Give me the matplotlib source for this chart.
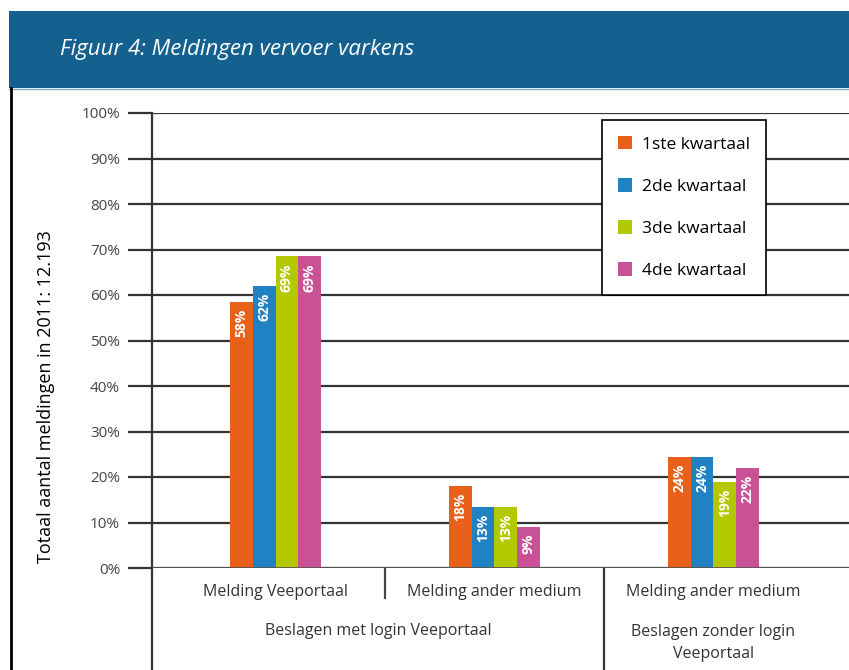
import numpy as np
import matplotlib.pyplot as plt
from matplotlib.patches import Rectangle, Patch
from matplotlib.lines import Line2D

plt.rcParams["font.family"] = ["Open Sans", "DejaVu Sans"]

# Data
categories = ["Melding Veeportaal", "Melding ander medium", "Melding ander medium"]
groups = ["Beslagen met login Veeportaal", "Beslagen zonder login\nVeeportaal"]
quarters = ["1ste kwartaal", "2de kwartaal", "3de kwartaal", "4de kwartaal"]
q1 = [58.5, 18.0, 24.4]
q2 = [62.0, 13.5, 24.4]
q3 = [68.5, 13.5, 19.0]
q4 = [68.5, 9.0, 22.0]
labels_q1 = ["58%", "18%", "24%"]
labels_q2 = ["62%", "13%", "24%"]
labels_q3 = ["69%", "13%", "19%"]
labels_q4 = ["69%", "9%", "22%"]
colors = ["#E8601A", "#2081C3", "#B4C800", "#C85295"]

W, H = 849, 670
fig = plt.figure(figsize=(W / 100, H / 100), dpi=100)

# blue header banner
fig.patches.append(Rectangle((9 / W, 1 - 88 / H), 1, 77 / H, transform=fig.transFigure,
                             facecolor="#14608F", edgecolor="none", zorder=0))
fig.add_artist(Line2D([9 / W, 1], [1 - 88.5 / H] * 2, color="#7FA9C6", lw=1))
fig.add_artist(Line2D([10.5 / W] * 2, [0, 1 - 88 / H], color="black", lw=2))
fig.text(60 / W, 1 - 50 / H, "Figuur 4: Meldingen vervoer varkens", color="white",
         fontsize=16, style="italic", va="center", ha="left")

ax = fig.add_axes([152 / W, 1 - 568 / H, (W - 152) / W, (568 - 113) / H])
x = np.arange(len(categories))
bw = 0.104
series = [q1, q2, q3, q4]
lab = [labels_q1, labels_q2, labels_q3, labels_q4]
for i, (vals, lbls) in enumerate(zip(series, lab)):
    pos = x + (i - 1.5) * bw
    ax.bar(pos, vals, width=bw, color=colors[i], label=quarters[i], zorder=3)
    for p, v, t in zip(pos, vals, lbls):
        ax.annotate(t, (p, v), xytext=(0, -5), textcoords="offset points",
                    rotation=90, ha="center", va="top", color="white",
                    fontsize=10, fontweight="bold", zorder=4)

ax.set_xlim(-0.564, 2.619)
ax.set_ylim(0, 100)
ax.set_yticks(range(0, 101, 10))
ax.set_yticklabels([f"{v}%" for v in range(0, 101, 10)], color="#444444", fontsize=11)
ax.yaxis.grid(True, color="#333333", lw=1.6, zorder=0)
ax.tick_params(axis="y", length=17, width=1.6, color="#333333", pad=6)
ax.set_xticks([])
for s in ["top", "right", "bottom"]:
    ax.spines[s].set_visible(False)
ax.spines["left"].set_color("#333333")
ax.spines["left"].set_linewidth(1.6)
ax.axhline(0, color="#555555", lw=2, zorder=5)

# vertical lines below the axis
trans = ax.get_xaxis_transform()
ax.plot([-0.564, -0.564], [0, -102 / 455], transform=trans, color="#333333", lw=1.6, clip_on=False)
ax.plot([0.5, 0.5], [0, -30 / 455], transform=trans, color="#444444", lw=1.6, clip_on=False)
ax.plot([1.5, 1.5], [0, -102 / 455], transform=trans, color="#333333", lw=1.6, clip_on=False)

for xi, c in zip(x, categories):
    ax.text(xi, -24 / 455, c, transform=trans, ha="center", va="center",
            fontsize=11.5, color="#333333")
ax.text(0.47, -63 / 455, groups[0], transform=trans, ha="center", va="center",
        fontsize=11.5, color="#333333")
ax.text(2.0, -75 / 455, groups[1], transform=trans, ha="center", va="center",
        fontsize=11.5, color="#333333", linespacing=1.45)

fig.text(46 / W, 1 - 397 / H, "Totaal aantal meldingen in 2011: 12.193", rotation=90,
         ha="center", va="center", fontsize=13, color="black")

handles = [Patch(facecolor=c, edgecolor="none") for c in colors]
leg = ax.legend(handles, quarters, loc="upper left",
                bbox_to_anchor=(602 / W, 1 - 120 / H), bbox_transform=fig.transFigure,
                frameon=True, fancybox=False, framealpha=1, edgecolor="black",
                fontsize=12.5, handlelength=0.85, handleheight=0.85, labelspacing=1.45,
                borderpad=0.9, handletextpad=0.55, borderaxespad=0)
leg.get_frame().set_linewidth(1.2)
leg.set_zorder(10)

fig.savefig("out.png", dpi=100)
